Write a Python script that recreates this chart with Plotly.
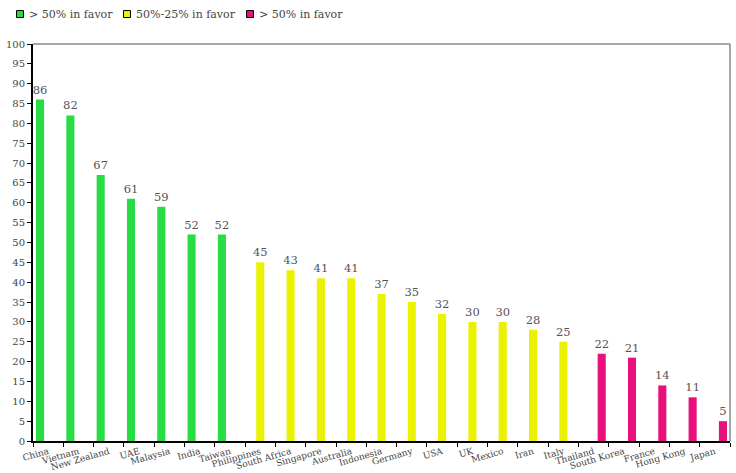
import plotly.graph_objects as go

countries = ["China", "Vietnam", "New Zealand", "UAE", "Malaysia", "India", "Taiwan",
             "Philippines", "South Africa", "Singapore", "Australia", "Indonesia", "Germany",
             "USA", "UK", "Mexico", "Iran", "Italy", "Thailand", "South Korea", "France",
             "Hong Kong", "Japan"]
high_values = [86, 82, 67, 61, 59, 52, 52] + [None] * 16
mid_values = [None] * 7 + [45, 43, 41, 41, 37, 35, 32, 30, 30, 28, 25] + [None] * 5
low_values = [None] * 18 + [22, 21, 14, 11, 5]
series_names = ["> 50% in favor", "50%-25% in favor", "> 50% in favor"]
y_ticks = list(range(0, 101, 5))

colors = ["#27DC45", "#EAF200", "#E8107A"]
FONT = "DejaVu Serif"

fig = go.Figure()
for vals, col, name in zip([high_values, mid_values, low_values], colors, series_names):
    fig.add_trace(go.Bar(
        x=countries, y=vals, name=name, marker=dict(color=col, line=dict(width=0)),
        text=[str(v) if v is not None else "" for v in vals],
        textposition="outside", cliponaxis=False, constraintext="none",
        textfont=dict(family=FONT, size=11.5, color="#555555"),
        showlegend=False,
    ))

# legend built in paper coordinates (plot area: x 33..730 px, y 44..441.5 px)
PL, PW, PB, PH = 33, 697, 441.5, 397.5
def px(x):
    return (x - PL) / PW
def py(y):
    return (PB - y) / PH

shapes = [
    dict(type="line", xref="paper", yref="paper", x0=0, x1=1, y0=1, y1=1,
         line=dict(color="#888888", width=1.5)),
    dict(type="line", xref="paper", yref="paper", x0=1, x1=1, y0=0, y1=1,
         line=dict(color="#888888", width=1.5)),
]
annotations = []
legend_sq_x = [20, 127, 250]
for cx, name, col in zip(legend_sq_x, series_names, colors):
    shapes.append(dict(type="rect", xref="paper", yref="paper",
                       x0=px(cx - 3.5), x1=px(cx + 3.5), y0=py(17.5), y1=py(10.5),
                       fillcolor=col, line=dict(color="#000000", width=1)))
    annotations.append(dict(text=name, xref="paper", yref="paper", x=px(cx + 7),
                            y=py(14), xanchor="left", yanchor="middle", showarrow=False,
                            font=dict(family=FONT, size=11, color="#444444")))

fig.update_layout(
    width=736, height=473,
    margin=dict(l=33, r=6, t=44, b=31.5, autoexpand=False),
    paper_bgcolor="white", plot_bgcolor="white",
    barmode="group", bargap=0.2, bargroupgap=0,
    font=dict(family=FONT, size=10, color="#444444"),
    showlegend=False,
    xaxis=dict(type="category", categoryorder="array", categoryarray=countries,
               showline=True, linecolor="#000000", linewidth=2,
               ticks="outside", tickson="boundaries", ticklen=4, tickcolor="#000000",
               tickangle=-16, showgrid=False, automargin=False, ticklabelstandoff=0,
               tickfont=dict(family=FONT, size=9, color="#444444")),
    yaxis=dict(range=[0, 100], tickvals=y_ticks, showline=True, linecolor="#000000",
               linewidth=2, ticks="outside", ticklen=4, tickcolor="#000000",
               showgrid=False, zeroline=False, automargin=False,
               tickfont=dict(family=FONT, size=10, color="#444444")),
    shapes=shapes,
    annotations=annotations,
)

fig.write_html("out.html")
